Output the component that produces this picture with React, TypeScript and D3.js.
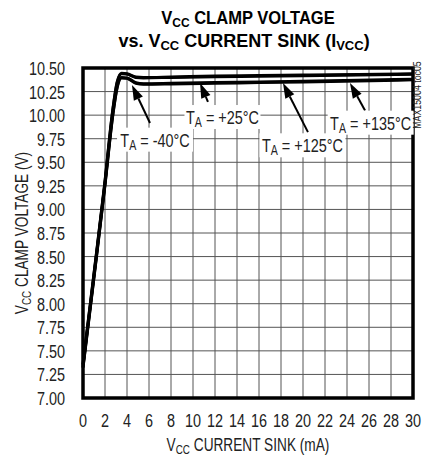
import React from 'react';
import * as d3 from 'd3';

// x: Vcc current sink (mA)
const currents = [0, 1, 2, 2.7, 3.1, 3.5, 4, 4.8, 5.5, 8, 12, 16, 20, 25, 30];
// clamp voltage (V) per ambient temperature
const vT135 = [7.36, 8.32, 9.3, 10.05, 10.35, 10.445, 10.44, 10.405, 10.4, 10.405, 10.415, 10.42, 10.425, 10.43, 10.44];
const vT125 = [7.35, 8.31, 9.29, 10.04, 10.34, 10.44, 10.435, 10.4, 10.395, 10.4, 10.408, 10.413, 10.418, 10.425, 10.435];
const vT25 = [7.33, 8.29, 9.27, 10.0, 10.3, 10.4, 10.395, 10.345, 10.333, 10.337, 10.345, 10.352, 10.36, 10.37, 10.382];
const vTm40 = [7.32, 8.28, 9.26, 9.99, 10.29, 10.395, 10.39, 10.338, 10.327, 10.33, 10.338, 10.345, 10.352, 10.362, 10.375];

const xTicks = [0, 2, 4, 6, 8, 10, 12, 14, 16, 18, 20, 22, 24, 26, 28, 30];
const yTicks = [7.0, 7.25, 7.5, 7.75, 8.0, 8.25, 8.5, 8.75, 9.0, 9.25, 9.5, 9.75, 10.0, 10.25, 10.5];

// annotation labels: text, label centre (mA, V), arrow tail / tip (mA, V)
const labelTemps = ['-40°C', '+25°C', '+125°C', '+135°C'];
const labelPos: [number, number][] = [[6.55, 9.74], [12.68, 9.98], [19.95, 9.68], [26.15, 9.92]];
const arrowTail: [number, number][] = [[6.09, 9.917], [11.36, 10.14], [20.45, 9.82], [25.64, 10.05]];
const arrowTip: [number, number][] = [[4.45, 10.32], [10.64, 10.34], [18.18, 10.34], [24.27, 10.34]];

const FONT = "'Liberation Sans', Arial, sans-serif";
const TXT = '#222';
const NARROW = 0.76;

const W = 425;
const H = 460;
const M = { left: 83, right: 413, top: 68, bottom: 398 };

// condensed text: horizontally squeezed around its anchor
function NText({ x, y, rotate = 0, sx = NARROW, children, ...rest }: any) {
  return (
    <g transform={`translate(${x},${y}) rotate(${rotate}) scale(${sx},1)`}>
      <text x={0} y={0} {...rest}>
        {children}
      </text>
    </g>
  );
}

export default function App() {
  const x = d3.scaleLinear().domain([0, 30]).range([M.left, M.right]);
  const y = d3.scaleLinear().domain([7, 10.5]).range([M.bottom, M.top]);

  const line = d3
    .line<number>()
    .x((_, i) => x(currents[i]))
    .y((d) => y(d))
    .curve(d3.curveMonotoneX);

  const series = [vTm40, vT25, vT125, vT135];

  const arrow = (tail: [number, number], tip: [number, number]) => {
    const x1 = x(tail[0]), y1 = y(tail[1]);
    const x2 = x(tip[0]), y2 = y(tip[1]);
    const a = Math.atan2(y2 - y1, x2 - x1);
    const len = 15, half = 5;
    const bx = x2 - len * Math.cos(a), by = y2 - len * Math.sin(a);
    const p1 = [bx + half * Math.sin(a), by - half * Math.cos(a)];
    const p2 = [bx - half * Math.sin(a), by + half * Math.cos(a)];
    return (
      <g>
        <line x1={x1} y1={y1} x2={bx} y2={by} stroke="#000" strokeWidth={2} />
        <polygon points={`${x2},${y2} ${p1[0]},${p1[1]} ${p2[0]},${p2[1]}`} fill="#000" />
      </g>
    );
  };

  return (
    <svg width={W} height={H} style={{ position: 'absolute', left: 0, top: 0, background: '#fff' }} fontFamily={FONT}>
      {/* title */}
      <NText x={248} y={24} sx={0.92} textAnchor="middle" fontSize={18} fontWeight="bold" fill="#000">
        V<tspan fontSize={13} dy={3}>CC</tspan>
        <tspan dy={-3}> CLAMP VOLTAGE</tspan>
      </NText>
      <NText x={244} y={47} sx={1.0} textAnchor="middle" fontSize={18} fontWeight="bold" fill="#000">
        vs. V<tspan fontSize={13} dy={3}>CC</tspan>
        <tspan dy={-3}> CURRENT SINK (I</tspan>
        <tspan fontSize={13} dy={3}>VCC</tspan>
        <tspan dy={-3}>)</tspan>
      </NText>

      {/* grid */}
      {xTicks.slice(1, -1).map((t) => (
        <line key={`gx${t}`} x1={x(t)} x2={x(t)} y1={M.top} y2={M.bottom} stroke="#555" strokeWidth={1} />
      ))}
      {yTicks.slice(1, -1).map((t) => (
        <line key={`gy${t}`} x1={M.left} x2={M.right} y1={y(t)} y2={y(t)} stroke="#555" strokeWidth={1} />
      ))}

      {/* curves */}
      {series.map((s, i) => (
        <path key={i} d={line(s) ?? ''} fill="none" stroke="#000" strokeWidth={3} strokeLinejoin="round" />
      ))}

      {/* frame */}
      <rect x={M.left} y={M.top} width={M.right - M.left} height={M.bottom - M.top} fill="none" stroke="#000" strokeWidth={3.5} />

      {/* annotations */}
      {labelTemps.map((t, i) => {
        const cx = x(labelPos[i][0]);
        const cy = y(labelPos[i][1]);
        const bw = t.length > 5 ? 86 : 76;
        return (
          <g key={t}>
            {arrow(arrowTail[i], arrowTip[i])}
            <rect x={cx - bw / 2} y={cy - 12} width={bw} height={24} fill="#fff" />
            <NText x={cx} y={cy + 7} textAnchor="middle" fontSize={19} fill={TXT}>
              T<tspan fontSize={14} dy={3}>A</tspan>
              <tspan dy={-3}> = {t}</tspan>
            </NText>
          </g>
        );
      })}

      {/* y ticks */}
      {yTicks.map((t) => (
        <NText key={`yl${t}`} x={65} y={y(t) + 7} textAnchor="end" fontSize={19} fill={TXT}>
          {t.toFixed(2)}
        </NText>
      ))}
      {/* x ticks */}
      {xTicks.map((t) => (
        <NText key={`xl${t}`} x={x(t)} y={427} textAnchor="middle" fontSize={19} fill={TXT}>
          {t}
        </NText>
      ))}

      {/* axis titles */}
      <NText x={248} y={451} textAnchor="middle" fontSize={18} fill={TXT}>
        V<tspan fontSize={13} dy={3}>CC</tspan>
        <tspan dy={-3}> CURRENT SINK (mA)</tspan>
      </NText>
      <NText x={28} y={(M.top + M.bottom) / 2} rotate={-90} textAnchor="middle" fontSize={18} fill={TXT}>
        V<tspan fontSize={13} dy={3}>CC</tspan>
        <tspan dy={-3}> CLAMP VOLTAGE (V)</tspan>
      </NText>

      {/* part code */}
      <NText x={421} y={95} rotate={-90} sx={0.8} textAnchor="middle" fontSize={11} fill={TXT}>
        MAX15004 toc05
      </NText>
    </svg>
  );
}
